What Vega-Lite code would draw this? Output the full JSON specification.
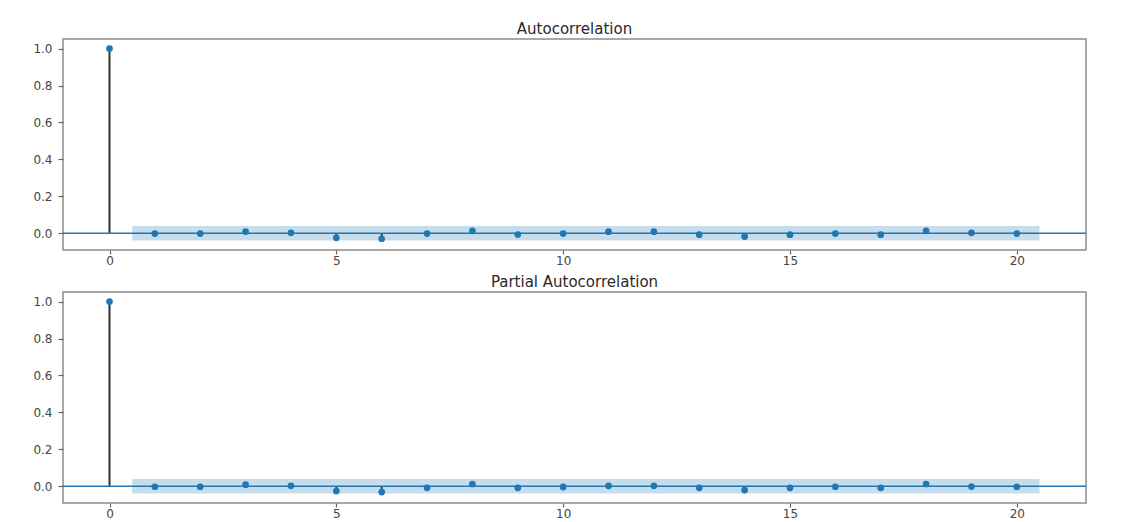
{
  "$schema": "https://vega.github.io/schema/vega-lite/v6.json",
  "background": "white",
  "padding": {"left": 32, "top": 21, "right": 10, "bottom": 0},
  "spacing": 7,
  "datasets": {
    "acf": [
      {"lag": 0, "value": 1.0},
      {"lag": 1, "value": -0.002},
      {"lag": 2, "value": -0.002},
      {"lag": 3, "value": 0.009},
      {"lag": 4, "value": 0.002},
      {"lag": 5, "value": -0.025},
      {"lag": 6, "value": -0.030},
      {"lag": 7, "value": -0.002},
      {"lag": 8, "value": 0.013},
      {"lag": 9, "value": -0.007},
      {"lag": 10, "value": -0.002},
      {"lag": 11, "value": 0.008},
      {"lag": 12, "value": 0.008},
      {"lag": 13, "value": -0.008},
      {"lag": 14, "value": -0.018},
      {"lag": 15, "value": -0.008},
      {"lag": 16, "value": -0.002},
      {"lag": 17, "value": -0.008},
      {"lag": 18, "value": 0.013},
      {"lag": 19, "value": 0.002},
      {"lag": 20, "value": -0.002}
    ],
    "pacf": [
      {"lag": 0, "value": 1.0},
      {"lag": 1, "value": -0.003},
      {"lag": 2, "value": -0.003},
      {"lag": 3, "value": 0.008},
      {"lag": 4, "value": 0.002},
      {"lag": 5, "value": -0.026},
      {"lag": 6, "value": -0.032},
      {"lag": 7, "value": -0.009},
      {"lag": 8, "value": 0.012},
      {"lag": 9, "value": -0.009},
      {"lag": 10, "value": -0.004},
      {"lag": 11, "value": 0.002},
      {"lag": 12, "value": 0.002},
      {"lag": 13, "value": -0.009},
      {"lag": 14, "value": -0.021},
      {"lag": 15, "value": -0.009},
      {"lag": 16, "value": -0.003},
      {"lag": 17, "value": -0.009},
      {"lag": 18, "value": 0.012},
      {"lag": 19, "value": -0.002},
      {"lag": 20, "value": -0.003}
    ],
    "confint": [
      {"from": 0.5, "to": 20.5, "lo": -0.0392, "hi": 0.0392}
    ],
    "zero": [
      {"level": 0}
    ]
  },
  "config": {
    "font": "DejaVu Sans",
    "view": {"stroke": "#8c8c8c", "strokeWidth": 1.5},
    "title": {"font": "DejaVu Sans", "fontSize": 15, "fontWeight": "normal", "color": "#2a2a2a", "offset": 2, "anchor": "middle"},
    "axis": {
      "domain": false,
      "grid": false,
      "title": null,
      "labelFont": "DejaVu Sans",
      "labelFontSize": 12,
      "labelColor": "#444444",
      "tickColor": "#666666",
      "tickWidth": 1.2
    },
    "axisX": {"tickSize": 4, "labelPadding": 1},
    "axisY": {"tickSize": 5, "labelPadding": 6}
  },
  "vconcat": [
    {
      "title": "Autocorrelation",
      "width": 1023,
      "height": 211,
      "layer": [
        {
          "data": {"name": "acf"},
          "mark": {"type": "rule", "color": "#333333", "strokeWidth": 2},
          "encoding": {
            "x": {"field": "lag", "type": "quantitative", "scale": {"domain": [-1.025, 21.525], "nice": false, "zero": false}, "axis": {"values": [0, 5, 10, 15, 20], "format": "d"}},
            "y": {"field": "value", "type": "quantitative", "scale": {"domain": [-0.091, 1.052], "nice": false, "zero": false}, "axis": {"values": [0, 0.2, 0.4, 0.6, 0.8, 1.0], "format": ".1f"}},
            "y2": {"datum": 0}
          }
        },
        {
          "data": {"name": "zero"},
          "mark": {"type": "rule", "color": "#1f77b4", "strokeWidth": 1.5},
          "encoding": {"y": {"field": "level", "type": "quantitative"}}
        },
        {
          "data": {"name": "acf"},
          "mark": {"type": "circle", "color": "#1f77b4", "size": 45, "opacity": 1},
          "encoding": {
            "x": {"field": "lag", "type": "quantitative"},
            "y": {"field": "value", "type": "quantitative"}
          }
        },
        {
          "data": {"name": "confint"},
          "mark": {"type": "rect", "color": "#1f77b4", "opacity": 0.25},
          "encoding": {
            "x": {"field": "from", "type": "quantitative"},
            "x2": {"field": "to"},
            "y": {"field": "lo", "type": "quantitative"},
            "y2": {"field": "hi"}
          }
        }
      ]
    },
    {
      "title": "Partial Autocorrelation",
      "width": 1023,
      "height": 211,
      "layer": [
        {
          "data": {"name": "pacf"},
          "mark": {"type": "rule", "color": "#333333", "strokeWidth": 2},
          "encoding": {
            "x": {"field": "lag", "type": "quantitative", "scale": {"domain": [-1.025, 21.525], "nice": false, "zero": false}, "axis": {"values": [0, 5, 10, 15, 20], "format": "d"}},
            "y": {"field": "value", "type": "quantitative", "scale": {"domain": [-0.091, 1.052], "nice": false, "zero": false}, "axis": {"values": [0, 0.2, 0.4, 0.6, 0.8, 1.0], "format": ".1f"}},
            "y2": {"datum": 0}
          }
        },
        {
          "data": {"name": "zero"},
          "mark": {"type": "rule", "color": "#1f77b4", "strokeWidth": 1.5},
          "encoding": {"y": {"field": "level", "type": "quantitative"}}
        },
        {
          "data": {"name": "pacf"},
          "mark": {"type": "circle", "color": "#1f77b4", "size": 45, "opacity": 1},
          "encoding": {
            "x": {"field": "lag", "type": "quantitative"},
            "y": {"field": "value", "type": "quantitative"}
          }
        },
        {
          "data": {"name": "confint"},
          "mark": {"type": "rect", "color": "#1f77b4", "opacity": 0.25},
          "encoding": {
            "x": {"field": "from", "type": "quantitative"},
            "x2": {"field": "to"},
            "y": {"field": "lo", "type": "quantitative"},
            "y2": {"field": "hi"}
          }
        }
      ]
    }
  ]
}
